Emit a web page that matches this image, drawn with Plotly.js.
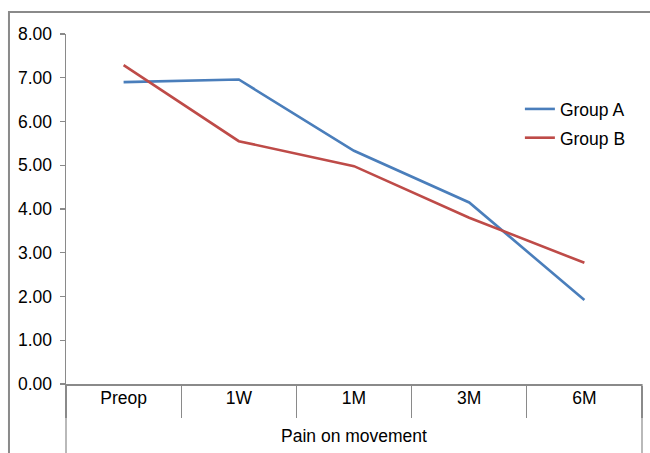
<!DOCTYPE html>
<html>
<head>
<meta charset="utf-8">
<script src="https://cdn.plot.ly/plotly-3.0.1.min.js"></script>
<style>html,body{margin:0;padding:0;background:#fff;}#chart{width:650px;height:453px;}</style>
</head>
<body>
<div id="chart"></div>
<script>
const categories = ["Preop", "1W", "1M", "3M", "6M"];
const groupA = [6.90, 6.96, 5.33, 4.15, 1.92];
const groupB = [7.29, 5.55, 4.98, 3.80, 2.77];
const seriesNames = ["Group A", "Group B"];
const yTickVals = [0, 1, 2, 3, 4, 5, 6, 7, 8];
const yTickText = yTickVals.map(v => v.toFixed(2));
const xTitle = "Pain on movement";

const gray = "#8a8a8a";
const fontFam = "Liberation Sans, Arial, sans-serif";
const fs = 17.5;

const traces = [
  {x: categories, y: groupA, name: seriesNames[0], type: "scatter", mode: "lines",
   line: {color: "#4a7ebb", width: 2.6}, legendgroup: "a"},
  {x: categories, y: groupB, name: seriesNames[1], type: "scatter", mode: "lines",
   line: {color: "#be4b48", width: 2.6}, legendgroup: "b"}
];

const layout = {
  width: 650, height: 453,
  margin: {l: 66, r: 8, t: 34, b: 69},
  paper_bgcolor: "#fff", plot_bgcolor: "#fff",
  font: {family: fontFam, size: fs, color: "#000"},
  showlegend: true,
  legend: {x: 0.788, xanchor: "left", y: 0.837, yanchor: "top",
           tracegroupgap: 3, traceorder: "grouped",
           font: {size: fs, color: "#000"}, bgcolor: "rgba(0,0,0,0)"},
  xaxis: {
    type: "category", categoryarray: categories, range: [-0.5, 4.5],
    showgrid: false, zeroline: false, showline: true, linecolor: gray, linewidth: 1.5,
    ticks: "outside", tickson: "boundaries", ticklen: 32, tickcolor: gray, tickwidth: 1.2,
    ticklabelstandoff: -3,
    tickfont: {size: fs, color: "#000"},
    title: {text: xTitle, font: {size: fs, color: "#000"}, standoff: 23},
    automargin: false, fixedrange: true
  },
  yaxis: {
    range: [0, 8], tickvals: yTickVals, ticktext: yTickText,
    showgrid: false, zeroline: false, showline: true, linecolor: gray, linewidth: 1.5,
    ticks: "outside", ticklen: 5, tickcolor: gray, tickwidth: 1.2,
    ticklabelstandoff: 4,
    tickfont: {size: fs, color: "#000"},
    automargin: false, fixedrange: true
  },
  shapes: [
    {type: "line", xref: "paper", yref: "paper", x0: 0, x1: 0, y0: 0, y1: -0.25,
     line: {color: gray, width: 1.2}},
    {type: "line", xref: "paper", yref: "paper", x0: 1, x1: 1, y0: 0, y1: -0.25,
     line: {color: gray, width: 1.2}},
    {type: "rect", xref: "paper", yref: "paper", x0: -0.099, x1: 1.05, y0: -0.3, y1: 1.063,
     line: {color: gray, width: 2}, fillcolor: "rgba(0,0,0,0)", layer: "below"}
  ]
};

Plotly.newPlot("chart", traces, layout, {displayModeBar: false, staticPlot: true});
</script>
</body>
</html>
